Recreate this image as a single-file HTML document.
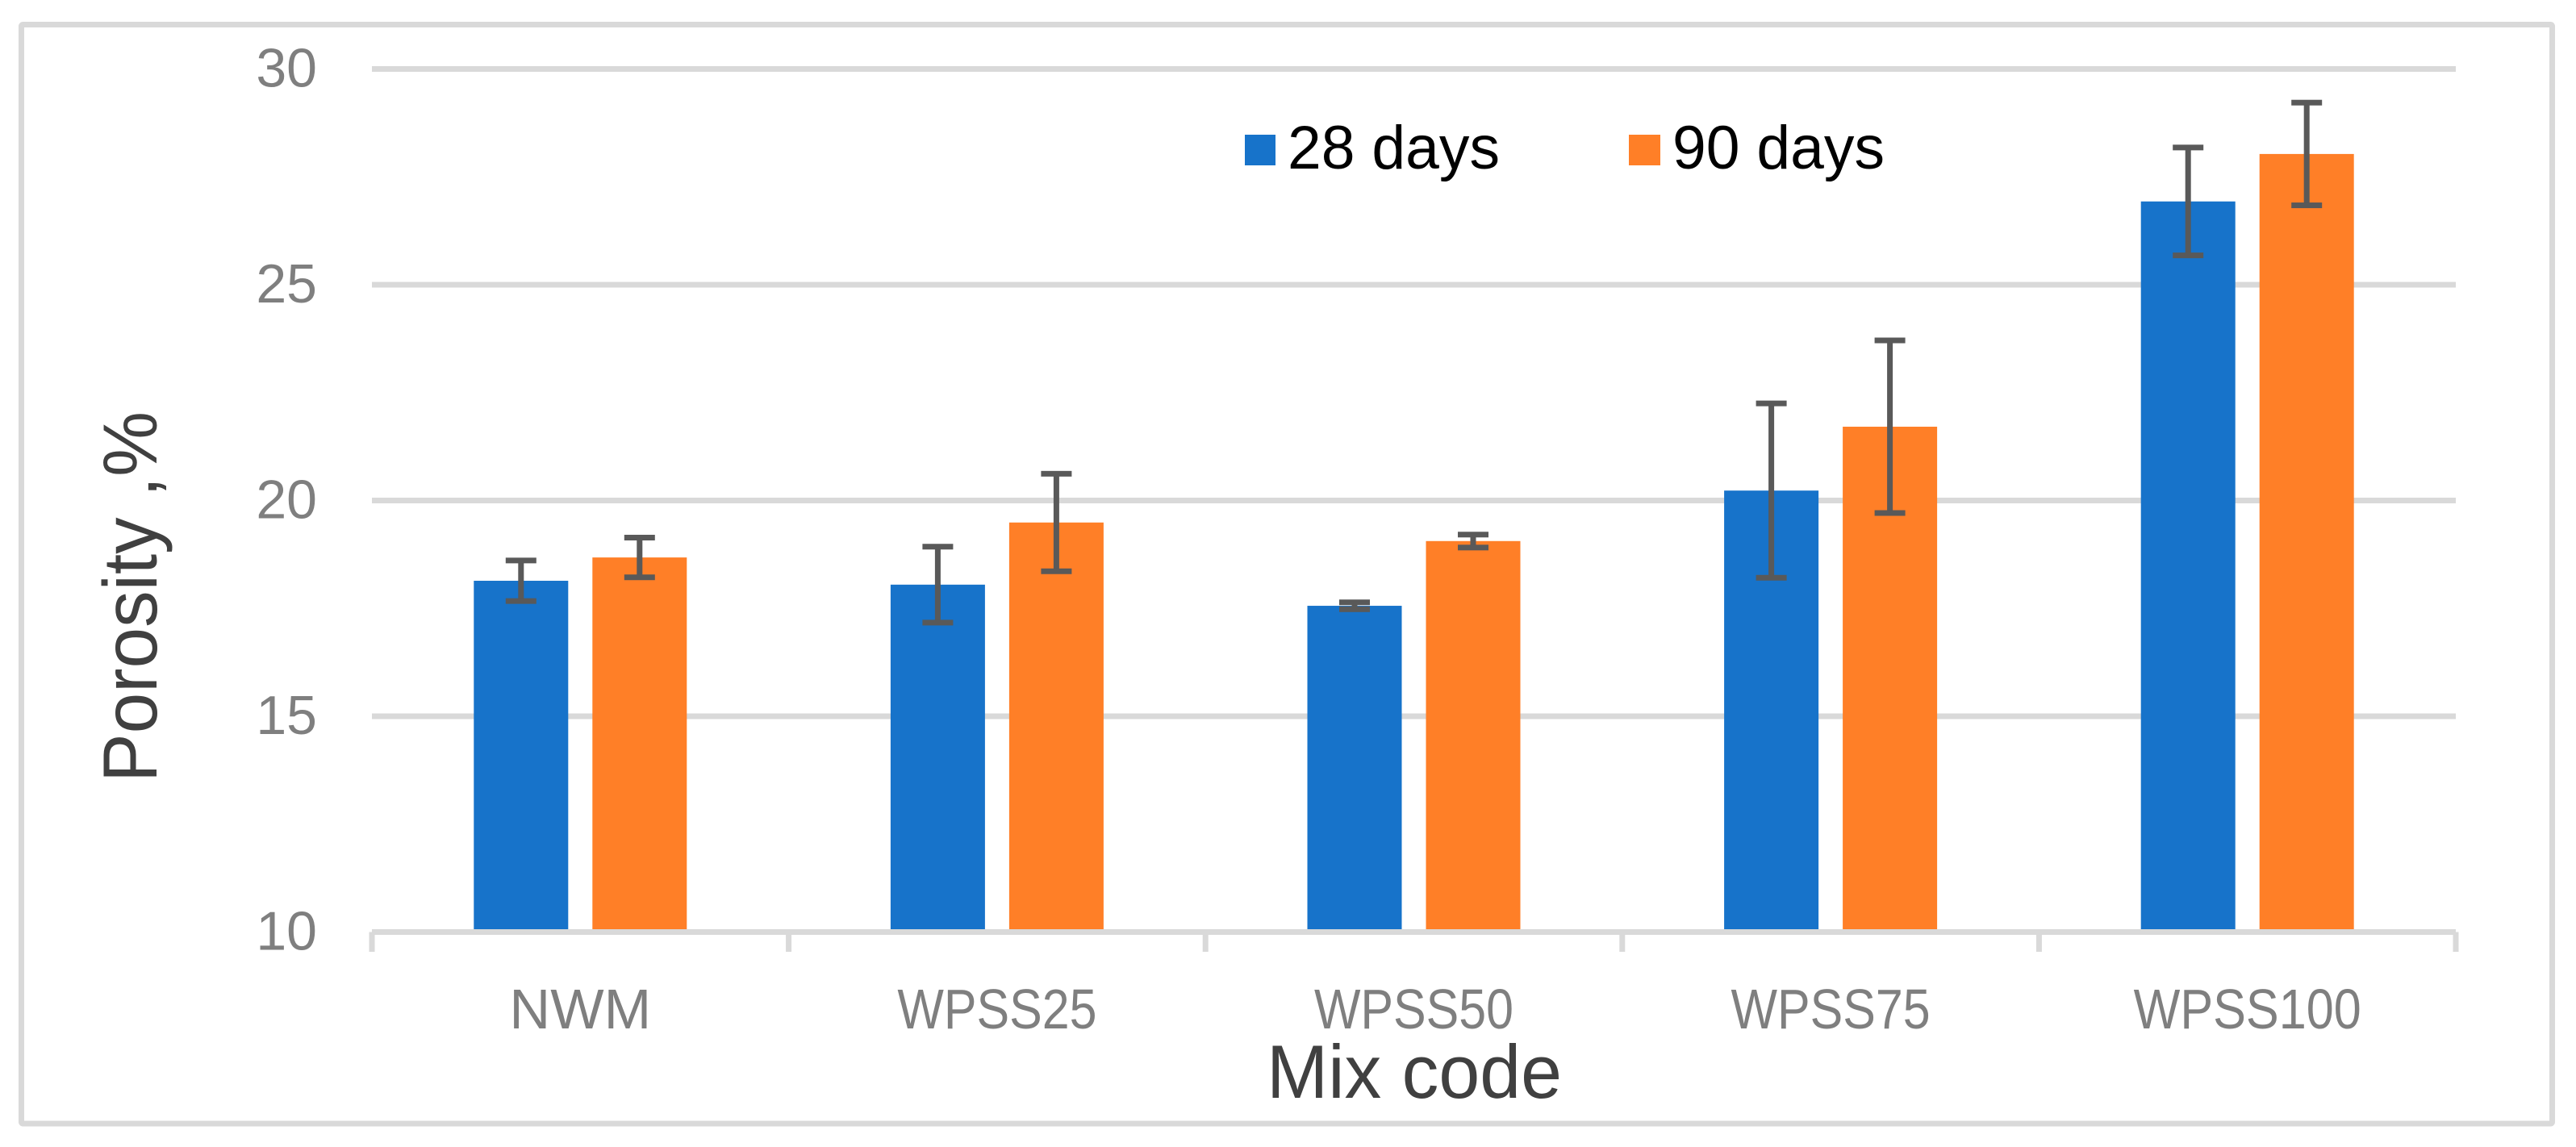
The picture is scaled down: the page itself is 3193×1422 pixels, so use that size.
<!DOCTYPE html>
<html lang="en">
<head>
<meta charset="utf-8">
<title>Porosity by mix code</title>
<style>
  html, body { margin: 0; padding: 0; background: #ffffff; }
  svg { display: block; }
  text { font-family: "Liberation Sans", Arial, sans-serif; }
</style>
</head>
<body>
<svg id="chart" xmlns="http://www.w3.org/2000/svg" width="3193" height="1422" viewBox="0 0 3193 1422">
  <rect x="0" y="0" width="3193" height="1422" fill="#ffffff"/>
  <rect x="26.5" y="30.5" width="3137" height="1362.5" rx="2" fill="none" stroke="#d9d9d9" stroke-width="7"/>
  <g id="grid"></g>
  <g id="bars"></g>
  <g id="axis"></g>
  <g id="errors"></g>
  <g id="yLabels"></g>
  <g id="xLabels"></g>
  <text transform="translate(194,970) rotate(-90)" font-size="95" fill="#404040" textLength="460" lengthAdjust="spacingAndGlyphs">Porosity ,%</text>
  <text x="1570" y="1361" font-size="94" fill="#404040" textLength="366" lengthAdjust="spacingAndGlyphs">Mix code</text>
  <g>
    <rect x="1543" y="167" width="38" height="38" fill="#1773ca"/>
    <text x="1596" y="209" font-size="76" fill="#000000" textLength="263" lengthAdjust="spacingAndGlyphs">28 days</text>
    <rect x="2019" y="167" width="39" height="38" fill="#ff7f27"/>
    <text x="2073" y="209" font-size="76" fill="#000000" textLength="263" lengthAdjust="spacingAndGlyphs">90 days</text>
  </g>
</svg>
<script>
const categories = ["NWM", "WPSS25", "WPSS50", "WPSS75", "WPSS100"];
const days28 = [18.14, 18.05, 17.56, 20.23, 26.93];
const days90 = [18.68, 19.49, 19.06, 21.71, 28.03];
const err28 = [0.47, 0.88, 0.08, 2.02, 1.25];
const err90 = [0.46, 1.13, 0.15, 2.00, 1.19];
const yTicks = [10, 15, 20, 25, 30];

const NS = "http://www.w3.org/2000/svg";
const plotLeft = 461, plotRight = 3044, plotBaseY = 1155.5, plotTopY = 85.5;
const yMin = 10, yMax = 30;
const barWidth = 117, barGap = 30;
const blue = "#1773ca", orange = "#ff7f27", gridColor = "#d9d9d9", errColor = "#595959";
/* approximate advance widths (em) of the reference's label typeface */
const glyphEm = { N: 0.75, W: 0.91, M: 0.85, P: 0.56, S: 0.53 };

function yScale(v) { return plotBaseY - (v - yMin) / (yMax - yMin) * (plotBaseY - plotTopY); }
function bandWidth() { return (plotRight - plotLeft) / categories.length; }
function xCenter(i) { return plotLeft + bandWidth() * (i + 0.5); }
function make(tag, parentId) {
  const el = document.createElementNS(NS, tag);
  document.getElementById(parentId).appendChild(el);
  return el;
}
function place(el, x, y, w, h, fill) {
  el.setAttribute("x", x);
  el.setAttribute("y", y);
  el.setAttribute("width", w);
  el.setAttribute("height", h);
  el.setAttribute("fill", fill);
}
function labelWidth(s, fontSize) {
  let em = 0;
  for (const c of s) em += (c in glyphEm) ? glyphEm[c] : 0.5;
  return em * fontSize;
}

yTicks.forEach(function (t) {
  const y = yScale(t);
  if (t !== yMin) {
    const line = make("rect", "grid");
    
    
    place(line, plotLeft, y - 3.5, plotRight - plotLeft, 7, gridColor);
  }
  const label = make("text", "yLabels");
  
  
  label.setAttribute("x", 393);
  label.setAttribute("y", y + 22);
  label.setAttribute("text-anchor", "end");
  label.setAttribute("font-size", 68);
  label.setAttribute("fill", "#7f7f7f");
  label.textContent = t;
});

function drawBar(value, i, offset, fill, seriesName) {
  const rect = make("rect", "bars");
  
  
  place(rect, xCenter(i) + offset, yScale(value), barWidth, plotBaseY - yScale(value), fill);
}

function drawError(value, err, i, offset, seriesName) {
  const cx = xCenter(i) + offset + barWidth / 2;
  const top = yScale(value + err), bottom = yScale(value - err);
  const stem = make("rect", "errors");
  
  
  place(stem, cx - 3.5, top, 7, bottom - top, errColor);
  const capTop = make("rect", "errors");
  
  
  place(capTop, cx - 19, top - 3.5, 38, 7, errColor);
  const capBottom = make("rect", "errors");
  
  
  place(capBottom, cx - 19, bottom - 3.5, 38, 7, errColor);
}

categories.forEach(function (name, i) {
  const blueOffset = -barGap / 2 - barWidth;
  const orangeOffset = barGap / 2;
  drawBar(days28[i], i, blueOffset, blue, "28-days");
  drawBar(days90[i], i, orangeOffset, orange, "90-days");
  drawError(days28[i], err28[i], i, blueOffset, "28-days");
  drawError(days90[i], err90[i], i, orangeOffset, "90-days");

  const label = make("text", "xLabels");
  
  
  label.setAttribute("x", xCenter(i));
  label.setAttribute("y", 1275);
  label.setAttribute("text-anchor", "middle");
  label.setAttribute("font-size", 70);
  label.setAttribute("fill", "#7f7f7f");
  label.setAttribute("textLength", labelWidth(name, 70));
  label.setAttribute("lengthAdjust", "spacingAndGlyphs");
  label.textContent = name;
});

const axisLine = make("rect", "axis");


place(axisLine, plotLeft, plotBaseY - 3.5, plotRight - plotLeft, 7, gridColor);

for (let i = 0; i <= categories.length; i++) {
  const tick = make("rect", "axis");
  
  
  place(tick, plotLeft + bandWidth() * i - 3.5, plotBaseY, 7, 24.5, gridColor);
}
</script>
</body>
</html>
